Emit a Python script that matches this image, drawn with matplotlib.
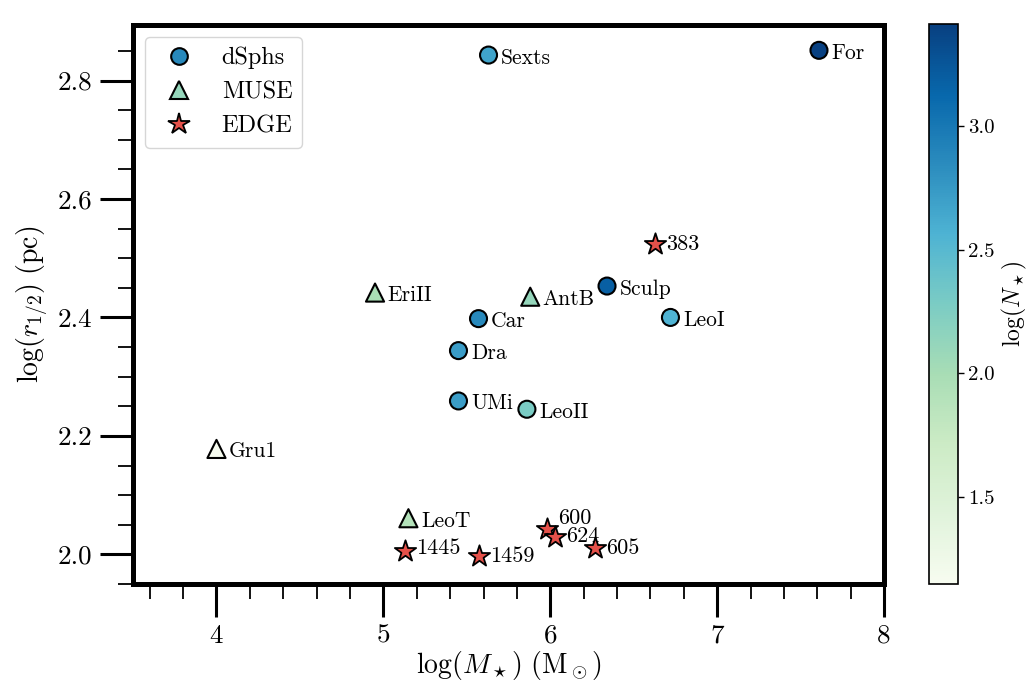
import matplotlib
matplotlib.use("Agg")
import matplotlib.pyplot as plt
from matplotlib.colors import Normalize
from matplotlib.lines import Line2D
import numpy as np

plt.rcParams['font.family'] = 'serif'
plt.rcParams['font.serif'] = ['cmr10']
plt.rcParams['mathtext.fontset'] = 'cm'
plt.rcParams['axes.formatter.use_mathtext'] = True
plt.rcParams['axes.unicode_minus'] = False

# dSphs
dsph_names = ['Sexts', 'For', 'Sculp', 'LeoI', 'Car', 'Dra', 'UMi', 'LeoII']
dsph_logM = [5.63, 7.61, 6.34, 6.72, 5.57, 5.45, 5.45, 5.86]
dsph_logr = [2.843, 2.851, 2.453, 2.400, 2.398, 2.344, 2.259, 2.245]
dsph_logN = [2.67, 3.41, 3.19, 2.56, 2.87, 2.73, 2.72, 2.28]

# MUSE
muse_names = ['EriII', 'AntB', 'Gru1', 'LeoT']
muse_logM = [4.95, 5.88, 4.0, 5.15]
muse_logr = [2.442, 2.435, 2.178, 2.061]
muse_logN = [1.99, 2.12, 1.15, 1.90]

# EDGE
edge_names = ['383', '600', '624', '605', '1445', '1459']
edge_logM = [6.625, 5.98, 6.03, 6.27, 5.13, 5.57]
edge_logr = [2.524, 2.043, 2.030, 2.010, 2.005, 1.997]

vmin, vmax = 1.147, 3.412
cmap = plt.get_cmap('GnBu')
norm = Normalize(vmin=vmin, vmax=vmax)
star_color = '#e5514a'

fig = plt.figure(figsize=(10.28, 6.83), dpi=100)
ax = fig.add_axes([0.1294, 0.1450, 0.7306, 0.8186])
cax = fig.add_axes([0.9040, 0.1450, 0.0277, 0.8194])

sc = ax.scatter(dsph_logM, dsph_logr, c=dsph_logN, cmap=cmap, norm=norm, s=150,
                marker='o', edgecolors='black', linewidths=1.5, zorder=3)
ax.scatter(muse_logM, muse_logr, c=muse_logN, cmap=cmap, norm=norm, s=170,
           marker='^', edgecolors='black', linewidths=1.5, zorder=3)
ax.scatter(edge_logM, edge_logr, c=star_color, s=260, marker='*',
           edgecolors='black', linewidths=1.3, zorder=4)

fs_ann = 15.5
for n, x, y in zip(dsph_names, dsph_logM, dsph_logr):
    ax.annotate(n, (x, y), xytext=(9, -2), textcoords='offset points',
                va='center', ha='left', fontsize=fs_ann)
for n, x, y in zip(muse_names, muse_logM, muse_logr):
    ax.annotate(n, (x, y), xytext=(9, -2), textcoords='offset points',
                va='center', ha='left', fontsize=fs_ann)
edge_off = {'383': (8, 0), '600': (8, 8), '624': (8, 0), '605': (8, 0),
            '1445': (8, 2), '1459': (8, 0)}
for n, x, y in zip(edge_names, edge_logM, edge_logr):
    ax.annotate(n, (x, y), xytext=edge_off[n], textcoords='offset points',
                va='center', ha='left', fontsize=16)

ax.set_xlim(3.5, 8.0)
ax.set_ylim(1.9545, 2.894)
ax.set_xticks([4, 5, 6, 7, 8])
ax.set_xticks(np.arange(3.6, 8.0, 0.2), minor=True)
ax.set_yticks([2.0, 2.2, 2.4, 2.6, 2.8])
ax.set_yticks(np.arange(1.95, 2.9, 0.05), minor=True)
ax.set_xticklabels(['4', '5', '6', '7', '8'])
ax.set_yticklabels(['2.0', '2.2', '2.4', '2.6', '2.8'])

ax.tick_params(which='major', direction='out', length=24, width=2.2,
               labelsize=19.5, pad=5)
ax.tick_params(which='minor', direction='out', length=11, width=1.3)
for sp in ax.spines.values():
    sp.set_linewidth(3.6)

ax.set_xlabel(r'$\log(M_\star)\ (\mathrm{M}_\odot)$', fontsize=20, labelpad=1)
ax.set_ylabel(r'$\log(r_{1/2})\ (\mathrm{pc})$', fontsize=20, labelpad=6)

handles = [
    Line2D([], [], marker='o', ls='none', markersize=12,
           markerfacecolor=cmap(norm(2.87)), markeredgecolor='black', markeredgewidth=1.5),
    Line2D([], [], marker='^', ls='none', markersize=13,
           markerfacecolor=cmap(norm(2.12)), markeredgecolor='black', markeredgewidth=1.5),
    Line2D([], [], marker='*', ls='none', markersize=16,
           markerfacecolor=star_color, markeredgecolor='black', markeredgewidth=1.3),
]
ax.legend(handles, ['dSphs', 'MUSE', 'EDGE'], loc='upper left', fontsize=17.5,
          handletextpad=0.75, borderpad=0.4, labelspacing=0.5,
          borderaxespad=0.5)

cb = fig.colorbar(sc, cax=cax)
cb.set_ticks([1.5, 2.0, 2.5, 3.0])
cb.set_ticklabels(['1.5', '2.0', '2.5', '3.0'])
cb.ax.tick_params(labelsize=15, length=4, width=1)
cb.outline.set_linewidth(1.2)
cb.set_label(r'$\log(N_\star)$', fontsize=17, labelpad=4)

fig.savefig('out.png', dpi=100)
